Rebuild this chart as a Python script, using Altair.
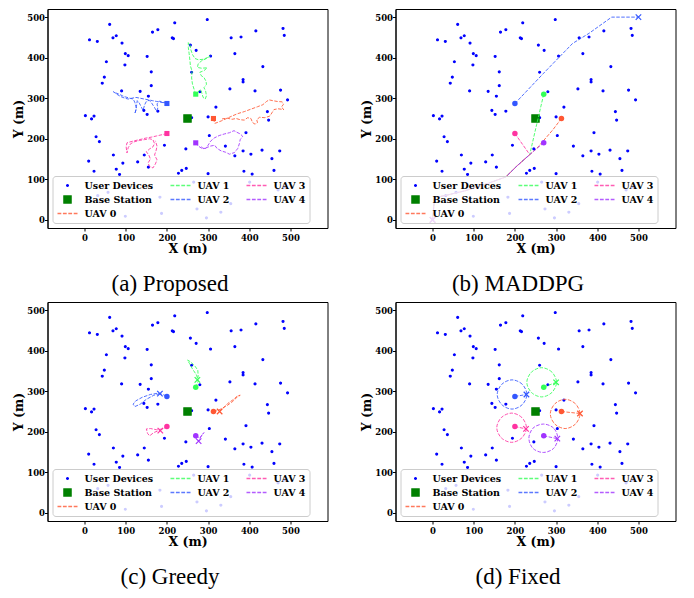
import altair as alt
import pandas as pd

# ---------------- data ----------------
device_x = [61, 219, 298, 12, 31, 69, 77, 91, 178, 165,
            213, 216, 99, 106, 152, 53, 98, 162, 48, 43,
            162, 90, 135, 155, 144, 152, 178, 2, 17, 23,
            28, 36, 70, 10, 23, 77, 93, 85, 129, 145,
            155, 194, 246, 228, 236, 247, 260, 260, 257, 271,
            306, 280, 319, 300, 303, 342, 365, 385, 392, 404,
            431, 455, 474, 387, 407, 460, 300, 353, 385, 385,
            414, 444, 447, 476, 493, 433, 365, 356, 380, 416,
            482, 485, 265, 401, 32, 57, 183, 187, 99, 273,
            296, 331, 355, 470, 486]
device_y = [482, 486, 494, 444, 440, 449, 454, 436, 469, 463,
            449, 447, 410, 405, 403, 390, 382, 365, 352, 337,
            331, 318, 317, 305, 270, 260, 268, 257, 249, 256,
            205, 193, 160, 145, 120, 125, 140, 112, 143, 160,
            130, 184, 175, 115, 122, 127, 252, 364, 431, 418,
            404, 316, 278, 254, 208, 182, 158, 170, 215, 162,
            172, 151, 170, 120, 113, 122, 114, 323, 346, 340,
            318, 267, 246, 320, 296, 378, 410, 449, 451, 466,
            472, 455, 93, 93, 60, 68, 56, 16, 9, 27,
            5, 19, 40, 74, 81]
bs_x = [250]
bs_y = [250]

uav_names = ["UAV 0", "UAV 1", "UAV 2", "UAV 3", "UAV 4"]
uav_colors = ["#FF5733", "#33FF57", "#3357FF", "#FF33A1", "#A133FF"]
start_x = [313, 270, 200, 200, 270]
start_y = [250, 310, 287, 213, 190]

# (a) Proposed trajectories
prop_paths = {
    "UAV 0": [(313, 250), (316, 238), (322, 240), (332, 244), (345, 250), (358, 256), (372, 262),
              (388, 267), (404, 273), (420, 279), (433, 284), (442, 292), (448, 296), (457, 294),
              (468, 292), (480, 291), (483, 285), (478, 278), (484, 272), (470, 274), (460, 272),
              (455, 264), (450, 256), (438, 252), (425, 253), (418, 247), (420, 240), (414, 236),
              (408, 240), (404, 250), (396, 252), (388, 246), (378, 247), (368, 250), (358, 248),
              (346, 251), (334, 249)],
    "UAV 1": [(270, 310), (266, 322), (262, 335), (260, 350), (261, 367), (257, 380), (256, 392),
              (254, 410), (252, 425), (252, 437), (256, 432), (258, 420), (262, 408), (268, 398),
              (276, 395), (288, 396), (298, 400), (305, 404), (296, 398), (284, 392), (276, 385),
              (274, 376), (284, 374), (298, 375), (290, 368), (280, 364), (283, 356), (290, 351),
              (295, 342), (296, 334), (290, 326), (294, 318), (296, 306), (293, 298), (288, 302),
              (284, 315), (282, 322), (278, 318), (272, 312)],
    "UAV 2": [(199, 288), (190, 290), (182, 293), (176, 286), (178, 276), (175, 268), (170, 277),
              (163, 288), (157, 295), (150, 292), (146, 284), (142, 270), (138, 278), (133, 288),
              (128, 294), (126, 280), (124, 268), (122, 262), (126, 275), (122, 290), (118, 298),
              (110, 300), (100, 303), (92, 306), (84, 310), (76, 313), (70, 316), (78, 310),
              (88, 304), (98, 300), (106, 298), (115, 300), (125, 302), (135, 300), (145, 298),
              (155, 296), (165, 294), (175, 292), (185, 290), (199, 288)],
    "UAV 3": [(200, 213), (188, 210), (175, 207), (162, 204), (150, 202), (138, 199), (125, 196),
              (113, 193), (103, 190), (101, 180), (103, 165), (106, 178), (112, 188), (122, 193),
              (134, 196), (146, 198), (158, 200), (166, 198), (170, 188), (166, 180), (158, 175),
              (150, 168), (156, 160), (160, 150), (154, 140), (158, 132), (166, 128), (172, 138),
              (176, 148), (170, 160), (174, 172), (176, 182), (172, 195)],
    "UAV 4": [(270, 190), (276, 182), (284, 177), (294, 176), (300, 184), (306, 194), (315, 202),
              (327, 208), (340, 212), (352, 215), (363, 220), (370, 216), (378, 212), (384, 206),
              (378, 198), (376, 188), (372, 176), (364, 166), (352, 162), (342, 167), (332, 170),
              (322, 176), (316, 184), (306, 182), (296, 178), (288, 176), (282, 182)],
}

# (b) MADDPG trajectories
mad_tail = [(236, 161), (206, 134), (178, 106), (140, 92), (80, 72), (30, 60), (5, 55), (0, 0)]
mad_paths = {
    "UAV 0": [(313, 250), (292, 222), (270, 196), (252, 175)] + mad_tail,
    "UAV 1": [(270, 310), (253, 236)] + mad_tail,
    "UAV 2": [(200, 287), (270, 362), (340, 435), (380, 460), (435, 500), (500, 500)],
    "UAV 3": [(200, 213), (218, 187)] + mad_tail,
    "UAV 4": [(270, 190), (252, 175)] + mad_tail,
}

# (c) Greedy trajectories
greedy_paths = {
    "UAV 0": [(313, 250), (322, 252), (335, 258), (348, 266), (360, 275), (370, 285), (378, 290),
              (372, 289), (362, 280), (348, 270), (336, 258), (328, 250)],
    "UAV 1": [(270, 310), (276, 325), (272, 340), (262, 355), (255, 368), (250, 377), (258, 372),
              (268, 362), (275, 352), (276, 338), (274, 328)],
    "UAV 2": [(199, 288), (190, 292), (178, 295), (160, 292), (140, 285), (124, 276), (118, 268),
              (122, 262), (135, 268), (150, 280), (168, 290), (183, 294)],
    "UAV 3": [(200, 213), (190, 207), (175, 205), (160, 208), (150, 207), (153, 196), (158, 190),
              (168, 198), (178, 202), (184, 203)],
    "UAV 4": [(270, 190), (280, 185), (290, 198), (285, 192), (278, 180), (277, 177)],
}

# (d) Fixed: straight leg to the hovering ring, then the ring itself
fixed_legs = {
    "UAV 0": [(313, 250), (358, 245)],
    "UAV 1": [(270, 310), (300, 322)],
    "UAV 2": [(200, 287), (228, 292)],
    "UAV 3": [(200, 213), (227, 207)],
    "UAV 4": [(270, 190), (303, 183)],
}
fixed_rings = {
    "UAV 0": [(358, 244), (347, 269), (322, 280), (297, 269), (286, 244), (297, 219), (322, 208), (347, 219)],
    "UAV 1": [(301, 322), (290, 347), (265, 358), (240, 347), (229, 322), (240, 297), (265, 286), (290, 297)],
    "UAV 2": [(229, 292), (218, 317), (193, 328), (168, 317), (157, 292), (168, 267), (193, 256), (218, 267)],
    "UAV 3": [(228, 210), (217, 235), (192, 246), (167, 235), (156, 210), (167, 185), (192, 174), (217, 185)],
    "UAV 4": [(304, 184), (294, 209), (269, 219), (244, 209), (234, 184), (244, 159), (269, 149), (294, 159)],
}

captions = ["(a) Proposed", "(b) MADDPG", "(c) Greedy", "(d) Fixed"]
tick_vals = [0, 100, 200, 300, 400, 500]

# ---------------- legend styling helpers ----------------
# matplotlib fills its 3-column legend column by column; here entries go row by row
leg_domain = ["User Devices", "UAV 1", "UAV 3", "Base Station", "UAV 2", "UAV 4", "UAV 0"]
col = dict(zip(uav_names, uav_colors))
DOT = "M-0.09,0a0.09,0.09 0 1,0 0.18,0a0.09,0.09 0 1,0 -0.18,0"
SQ = "M-0.36,-0.36H0.36V0.36H-0.36Z"
DASH = "M-1,0H-0.62M-0.46,0H-0.08M0.08,0H0.46M0.62,0H1"
XMARK = "M-1,-1L1,1M-1,1L1,-1"


def dim(hexc, a=0.8):
    h = hexc.lstrip("#")
    r, g, b = int(h[0:2], 16), int(h[2:4], 16), int(h[4:6], 16)
    return f"rgba({r},{g},{b},{a})"


fill_range, stroke_range, shape_range = [], [], []
for name in leg_domain:
    if name == "User Devices":
        fill_range.append("#0000ff"); stroke_range.append("#0000ff"); shape_range.append(DOT)
    elif name == "Base Station":
        fill_range.append("#008000"); stroke_range.append("#008000"); shape_range.append(SQ)
    else:
        fill_range.append("transparent"); stroke_range.append(dim(col[name])); shape_range.append(DASH)

legend = alt.Legend(title=None, orient="bottom-left", direction="horizontal", offset=5, columns=3,
                    columnPadding=16, rowPadding=3, clipHeight=11, symbolSize=400,
                    symbolStrokeWidth=1.3, symbolOffset=0, labelFont="DejaVu Serif",
                    labelFontWeight="bold", labelFontSize=9.5, labelColor="black", labelOffset=6,
                    padding=4, values=leg_domain,
                    fillColor="rgba(255,255,255,0.8)", strokeColor="#cccccc", cornerRadius=3)

markers_df = pd.DataFrame({
    "x": device_x + bs_x,
    "y": device_y + bs_y,
    "series": ["User Devices"] * len(device_x) + ["Base Station"] * len(bs_x),
})

xs = alt.Scale(domain=[-90, 590], nice=False, zero=False)
ys = alt.Scale(domain=[-20, 520], nice=False, zero=False)
axis_common = dict(values=tick_vals, labelFont="DejaVu Serif", labelFontWeight="bold",
                   labelFontSize=8.5, labelColor="black", tickColor="black", tickSize=3,
                   domain=True, domainColor="black", domainWidth=1, grid=False,
                   titleFont="DejaVu Serif", titleFontWeight="bold",
                   titleFontSize=12.5, titleColor="black")
X = alt.X("x:Q", scale=xs, axis=alt.Axis(title="X (m)", labelPadding=2, titlePadding=1, **axis_common))
Y = alt.Y("y:Q", scale=ys, axis=alt.Axis(title="Y (m)", labelPadding=0, titlePadding=1.2, **axis_common))
uav_color = alt.Color("series:N", scale=alt.Scale(domain=uav_names, range=uav_colors), legend=None)


def paths_df(paths):
    rows = []
    for name, pts in paths.items():
        for i, (px, py) in enumerate(pts):
            rows.append({"series": name, "i": i, "x": px, "y": py})
    return pd.DataFrame(rows)


def panel(idx, line_layers, end_pts, start_shape):
    base_markers = alt.Chart(markers_df).mark_point(filled=True, size=400, opacity=1, strokeWidth=1.3).encode(
        x=X, y=Y,
        fill=alt.Fill("series:N", scale=alt.Scale(domain=leg_domain, range=fill_range), legend=legend),
        stroke=alt.Stroke("series:N", scale=alt.Scale(domain=leg_domain, range=stroke_range), legend=legend),
        shape=alt.Shape("series:N", scale=alt.Scale(domain=leg_domain, range=shape_range), legend=legend),
    )
    layers = [base_markers] + line_layers
    sdf = pd.DataFrame({"series": uav_names, "x": start_x, "y": start_y})
    if start_shape == "square":
        layers.append(alt.Chart(sdf).mark_square(size=26, opacity=1).encode(x=X, y=Y, color=uav_color))
    else:
        layers.append(alt.Chart(sdf).mark_circle(size=30, opacity=1).encode(x=X, y=Y, color=uav_color))
    if end_pts is not None:
        edf = pd.DataFrame({"series": uav_names, "x": [p[0] for p in end_pts], "y": [p[1] for p in end_pts]})
        layers.append(alt.Chart(edf).mark_point(shape=XMARK, filled=False, size=30, strokeWidth=1.2,
                                                opacity=1).encode(x=X, y=Y, color=uav_color))
    return alt.layer(*layers).properties(
        width=280, height=219,
        view=alt.ViewBackground(stroke="black", strokeWidth=1, fill="white"),
        title=alt.TitleParams(text=captions[idx], orient="bottom", font="Liberation Serif", fontSize=23,
                              fontWeight="normal", color="black", anchor="middle", frame="bounds",
                              offset=18),
    )


def line_layer(paths, interpolate="linear"):
    return alt.Chart(paths_df(paths)).mark_line(strokeWidth=1, strokeDash=[3.5, 1.5], opacity=0.85,
                                                 interpolate=interpolate).encode(
        x=X, y=Y, color=uav_color, order=alt.Order("i:Q"))


pa = panel(0, [line_layer(prop_paths)], None, "square")
pb = panel(1, [line_layer(mad_paths)], [p[-1] for p in mad_paths.values()], "circle")
pc = panel(2, [line_layer(greedy_paths)], [p[-1] for p in greedy_paths.values()], "circle")
pd_ = panel(3, [line_layer(fixed_legs), line_layer(fixed_rings, "cardinal-closed")],
            [p[-1] for p in fixed_legs.values()], "circle")

chart = alt.concat(pa, pb, pc, pd_, columns=2, spacing={"row": 4, "column": 31}).resolve_scale(
    fill="independent", stroke="independent", shape="independent", color="independent"
).resolve_legend(
    fill="independent", stroke="independent", shape="independent", color="independent"
).properties(
    padding={"left": 3.5, "top": 0, "right": 0, "bottom": 0},
    background="white",
)

chart.save("out.html", embed_options={"renderer": "svg", "actions": False})
